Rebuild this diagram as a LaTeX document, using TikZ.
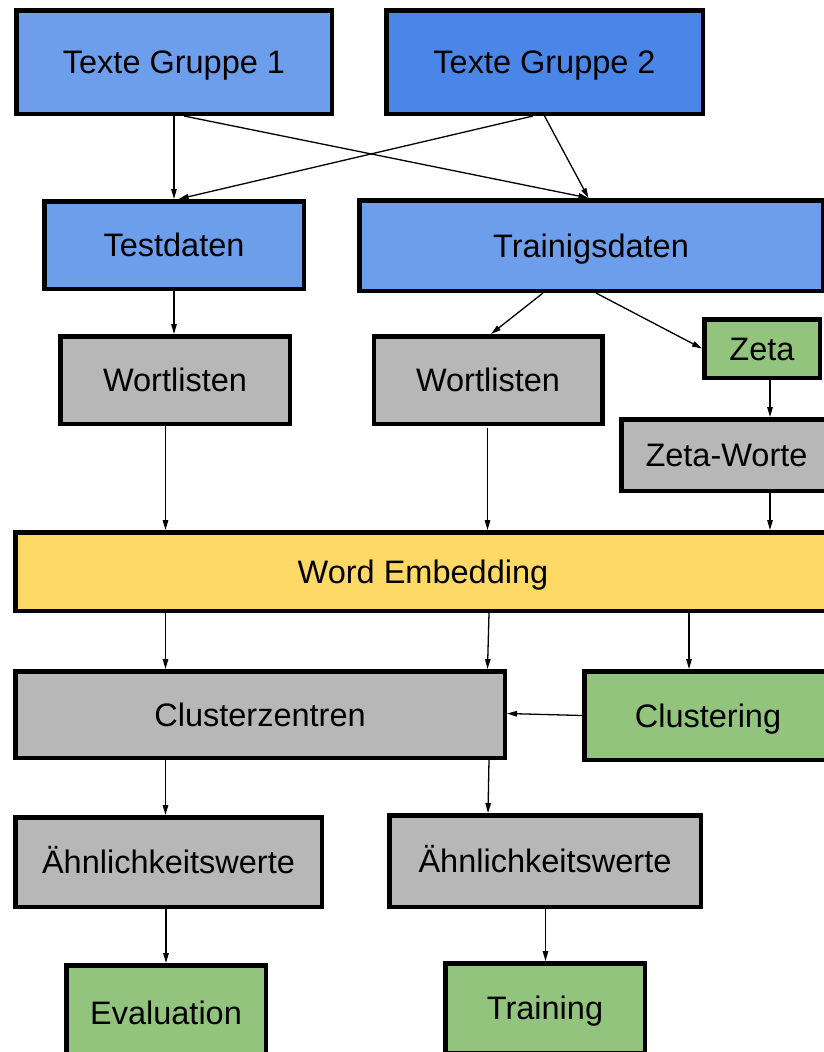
\documentclass[tikz,border=0pt]{standalone}
\usepackage{fontspec}
\setmainfont{Liberation Sans}
\usetikzlibrary{arrows.meta,calc}
\definecolor{lightblue}{HTML}{6D9EEB}
\definecolor{darkblue}{HTML}{4A86E8}
\definecolor{greybox}{HTML}{B7B7B7}
\definecolor{greenbox}{HTML}{93C47D}
\definecolor{yellowbox}{HTML}{FFD966}
\begin{document}
\begin{tikzpicture}[x=1pt,y=-1pt,
  box/.style={draw=black, line width=4.5pt, inner sep=0pt,
    font=\fontsize{32.5}{39}\selectfont, text=black,
    text height=23.3pt, text depth=0pt},
  flow/.style={-{Triangle[length=10pt,width=5.5pt]}, line width=1.3pt}]
\clip (0,0) rectangle (824,1052);

% boxes
\node[box, fill=lightblue, minimum width=315.5pt, minimum height=103.5pt] (tg1) at (174,62) {Texte Gruppe 1};
\node[box, fill=darkblue, minimum width=316.5pt, minimum height=103.5pt] (tg2) at (544.5,62) {Texte Gruppe 2};
\node[box, fill=lightblue, minimum width=259.5pt, minimum height=87.5pt] (test) at (174,245) {Testdaten};
\node[box, fill=lightblue, minimum width=463.5pt, minimum height=90.5pt] (train) at (591,245.5) {Trainigsdaten};
\node[box, fill=greybox, minimum width=229.5pt, minimum height=87.5pt] (wl1) at (175,380) {Wortlisten};
\node[box, fill=greybox, minimum width=228.5pt, minimum height=87.5pt] (wl2) at (488,380) {Wortlisten};
\node[box, fill=greenbox, minimum width=115.5pt, minimum height=58.5pt] (zeta) at (762,348.5) {Zeta};
\node[box, fill=greybox, minimum width=210.5pt, minimum height=71.5pt] (zw) at (726.5,455) {Zeta-Worte};
\node[box, fill=yellowbox, minimum width=815.5pt, minimum height=78.5pt] (we) at (423,571.5) {Word Embedding};
\node[box, fill=greybox, minimum width=489.5pt, minimum height=86.5pt] (clz) at (260,714.5) {Clusterzentren};
\node[box, fill=greenbox, minimum width=247.5pt, minimum height=88.5pt] (clu) at (708,715.5) {Clustering};
\node[box, fill=greybox, minimum width=306.5pt, minimum height=89.5pt] (ae1) at (168.5,862) {Ähnlichkeitswerte};
\node[box, fill=greybox, minimum width=311.5pt, minimum height=91.5pt] (ae2) at (545,861) {Ähnlichkeitswerte};
\node[box, fill=greenbox, minimum width=199.5pt, minimum height=95.5pt] (eval) at (166,1013) {Evaluation};
\node[box, fill=greenbox, minimum width=199.5pt, minimum height=89.5pt] (trn) at (545,1008) {Training};

% connectors
\draw[flow] (tg1.south) -- (test.north);
\draw[flow] ([xshift=10pt]tg1.south) -- ([xshift=-2.5pt]train.north);
\draw[flow] ([xshift=-11.5pt]tg2.south) -- ([xshift=4.7pt]test.north);
\draw[flow] (tg2.south) -- ([xshift=-2.5pt]train.north);
\draw[flow] (test.south) -- (test.south |- wl1.north);
\draw[flow] ([xshift=-48pt]train.south) -- ([xshift=3pt]wl2.north);
\draw[flow] ([xshift=5pt]train.south) -- (zeta.west);
\draw[flow] ([xshift=8pt]zeta.south) -- ([xshift=8pt]zeta.south |- zw.north);
\draw[flow] ([xshift=-9.5pt]wl1.south) -- ([xshift=-9.5pt]wl1.south |- we.north);
\draw[flow] ([xshift=-0.5pt,yshift=-2pt]wl2.south) -- ([xshift=-0.5pt]wl2.south |- we.north);
\draw[flow] ([xshift=43.5pt]zw.south) -- ([xshift=43.5pt]zw.south |- we.north);
\draw[flow] ([xshift=-94.5pt]clz.north |- we.south) -- ([xshift=-94.5pt]clz.north);
\draw[flow] ([xshift=229pt]clz.north |- we.south) -- ([xshift=227.5pt]clz.north);
\draw[flow] ([xshift=-19pt]clu.north |- we.south) -- ([xshift=-19pt]clu.north);
\draw[flow] (clu.west) -- ([yshift=1pt]clz.east);
\draw[flow] ([xshift=-3pt]ae1.north |- clz.south) -- ([xshift=-3pt]ae1.north);
\draw[flow] ([xshift=-56pt]ae2.north |- clz.south) -- ([xshift=-57pt]ae2.north);
\draw[flow] (eval.north |- ae1.south) -- (eval.north);
\draw[flow] ([xshift=0.5pt]ae2.south) -- ([xshift=0.5pt]trn.north);
\end{tikzpicture}
\end{document}
